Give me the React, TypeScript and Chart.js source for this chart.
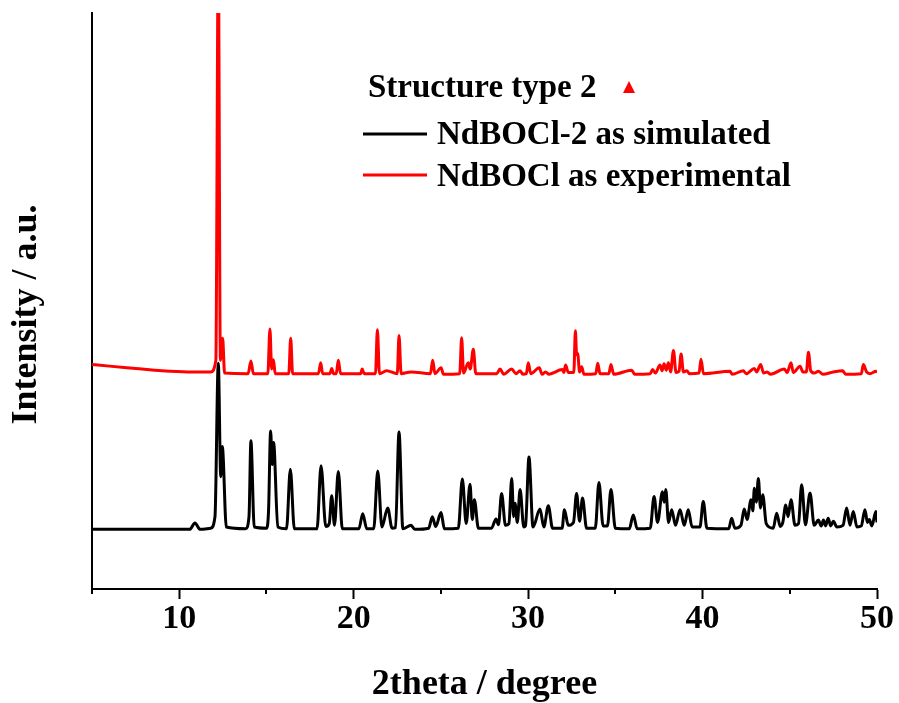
import { useEffect, useRef } from 'react';
import { Chart, registerables } from 'chart.js';

Chart.register(...registerables);

// ---- data ----
const simX = [5.0, 10.6, 10.9, 11.2, 11.8, 12.05, 12.24, 12.38, 12.47, 12.7, 13.8, 14.0, 14.11, 14.3, 15.0, 15.12, 15.24, 15.33, 15.41, 15.65, 16.15, 16.37, 16.6, 17.9, 18.13, 18.4, 18.6, 18.74, 18.9, 19.12, 19.35, 20.3, 20.52, 20.75, 21.15, 21.38, 21.62, 21.95, 22.2, 22.4, 22.6, 22.82, 23.29, 23.5, 24.3, 24.51, 24.7, 25.01, 25.2, 26.0, 26.23, 26.45, 26.67, 26.8, 26.92, 27.15, 27.9, 28.16, 28.3, 28.48, 28.7, 28.9, 29.06, 29.17, 29.25, 29.38, 29.54, 29.75, 29.85, 30.05, 30.28, 30.68, 30.9, 31.16, 31.4, 31.95, 32.08, 32.3, 32.6, 32.78, 32.95, 33.12, 33.35, 33.85, 34.06, 34.3, 34.55, 34.75, 35.0, 35.8, 36.03, 36.25, 37.0, 37.22, 37.42, 37.7, 37.8, 37.89, 38.05, 38.23, 38.45, 38.71, 38.95, 39.18, 39.4, 39.85, 40.04, 40.25, 41.5, 41.67, 41.85, 42.2, 42.39, 42.55, 42.78, 42.88, 42.97, 43.08, 43.2, 43.32, 43.45, 43.65, 44.05, 44.25, 44.45, 44.6, 44.77, 44.9, 45.07, 45.3, 45.5, 45.68, 45.9, 46.16, 46.4, 46.64, 46.8, 46.93, 47.05, 47.2, 47.35, 47.5, 47.7, 48.05, 48.26, 48.45, 48.64, 48.85, 49.1, 49.31, 49.45, 49.56, 49.7, 49.94, 50.0];
const simY = [10.8, 10.8, 11.9, 10.8, 11.0, 13.0, 39.5, 19.9, 25.1, 11.2, 10.9, 13.0, 26.1, 11.2, 11.0, 14.0, 27.8, 22.0, 25.8, 11.2, 10.9, 21.2, 10.9, 10.9, 21.8, 11.3, 11.8, 16.6, 11.5, 20.8, 10.9, 10.9, 13.5, 10.9, 10.9, 20.9, 11.2, 14.5, 11.0, 11.1, 27.6, 10.9, 11.5, 10.8, 11.0, 13.0, 11.3, 13.7, 10.9, 11.0, 19.5, 11.8, 18.6, 12.5, 15.9, 11.0, 11.0, 12.6, 11.6, 17.0, 11.5, 11.8, 19.6, 13.0, 15.3, 12.0, 17.7, 11.2, 11.4, 23.3, 11.2, 14.3, 11.2, 14.9, 11.0, 11.0, 14.2, 11.5, 12.0, 17.0, 12.2, 16.2, 11.0, 11.0, 18.9, 11.4, 11.4, 17.7, 11.0, 10.9, 13.3, 10.9, 11.0, 16.5, 12.0, 17.3, 15.5, 17.7, 12.0, 14.2, 11.5, 14.2, 11.5, 14.2, 11.2, 11.2, 15.6, 11.0, 10.9, 12.7, 11.0, 11.5, 14.3, 12.5, 15.9, 14.0, 17.9, 15.5, 19.6, 14.5, 16.8, 11.8, 11.0, 13.6, 11.3, 12.0, 15.0, 13.0, 15.9, 11.5, 11.8, 18.5, 11.6, 17.1, 11.5, 12.4, 11.4, 12.4, 11.4, 12.7, 11.4, 12.2, 11.2, 11.5, 14.5, 11.5, 13.9, 11.2, 11.4, 14.2, 12.0, 12.5, 11.4, 13.9, 12.0];

const expX = [5.0, 6.0, 7.5, 9.0, 10.5, 11.8, 12.1, 12.24, 12.36, 12.49, 12.6, 13.95, 14.11, 14.25, 15.08, 15.2, 15.3, 15.4, 15.5, 16.28, 16.39, 16.5, 17.98, 18.11, 18.22, 18.64, 18.74, 18.85, 19.0, 19.12, 19.25, 20.4, 20.49, 20.6, 21.25, 21.36, 21.48, 21.89, 22.5, 22.6, 22.72, 23.29, 24.4, 24.53, 24.66, 25.01, 25.15, 26.08, 26.19, 26.3, 26.57, 26.68, 26.86, 27.0, 28.2, 28.39, 28.6, 29.06, 29.3, 29.54, 29.7, 29.9, 30.01, 30.15, 30.64, 30.8, 31.0, 31.2, 31.96, 32.05, 32.15, 32.3, 32.62, 32.71, 32.78, 32.84, 32.95, 33.07, 33.2, 33.88, 33.99, 34.12, 34.63, 34.75, 34.9, 35.94, 36.1, 37.0, 37.14, 37.3, 37.56, 37.68, 37.79, 37.92, 38.04, 38.17, 38.33, 38.48, 38.65, 38.77, 38.9, 39.1, 39.25, 39.8, 39.91, 40.05, 41.57, 41.7, 42.34, 42.5, 42.97, 43.1, 43.33, 43.5, 43.7, 43.9, 44.69, 44.85, 45.07, 45.2, 45.59, 45.75, 45.95, 46.07, 46.2, 46.4, 46.64, 46.9, 47.5, 48.03, 48.2, 49.1, 49.22, 49.4, 49.6, 49.94, 50.0];
const expY = [39.3, 39.0, 38.6, 38.2, 38.0, 38.0, 40.0, 110.0, 40.0, 43.8, 37.8, 37.7, 39.9, 37.7, 37.7, 45.4, 38.5, 40.1, 37.7, 37.7, 43.8, 37.7, 37.7, 39.6, 37.7, 37.7, 38.6, 37.7, 37.7, 40.0, 37.7, 37.7, 38.5, 37.7, 37.7, 45.3, 37.7, 38.2, 37.7, 44.3, 37.7, 38.0, 37.7, 40.0, 37.7, 38.7, 37.6, 37.7, 43.9, 37.8, 39.6, 38.5, 41.9, 37.7, 37.7, 38.5, 37.6, 38.5, 37.7, 38.2, 37.6, 37.7, 39.6, 37.7, 38.7, 37.6, 38.0, 37.6, 38.4, 37.9, 39.2, 37.9, 37.9, 45.1, 41.0, 41.2, 38.0, 38.9, 37.6, 37.7, 39.5, 37.7, 37.7, 39.3, 37.6, 38.3, 37.6, 37.7, 38.4, 37.8, 39.2, 38.2, 39.4, 38.3, 39.6, 38.0, 41.7, 37.9, 38.1, 41.1, 38.0, 38.2, 37.7, 37.8, 40.2, 37.7, 38.1, 37.6, 38.2, 37.7, 38.6, 38.0, 39.3, 37.8, 38.0, 37.6, 38.5, 37.9, 39.6, 37.9, 39.0, 38.0, 38.0, 41.4, 38.2, 37.8, 38.1, 37.6, 38.0, 38.2, 37.6, 37.7, 39.3, 38.0, 37.7, 38.1, 37.9];

const seriesLabels = ['NdBOCl-2 as simulated', 'NdBOCl as experimental'];
const seriesColors = ['#000000', '#ff0000'];
const legendTitle = 'Structure type 2';
const xTitle = '2theta / degree';
const yTitle = 'Intensity / a.u.';
const xMin = 5;
const xMax = 50;
const yMin = 0.5;
const yMax = 100;
const minorTicks = [5, 15, 25, 35, 45];

const FONT = '"Liberation Serif", "Times New Roman", serif';

const overlayPlugin = {
  id: 'overlay',
  afterDraw(chart: any) {
    const ctx = chart.ctx;
    const xs = chart.scales.x;
    const bottom = chart.chartArea.bottom;
    ctx.save();
    // minor ticks
    ctx.strokeStyle = '#000';
    ctx.lineWidth = 2;
    minorTicks.forEach((v) => {
      const p = Math.round(xs.getPixelForValue(v));
      ctx.beginPath();
      ctx.moveTo(p, bottom);
      ctx.lineTo(p, bottom + 5);
      ctx.stroke();
    });
    // legend
    ctx.font = `bold 33px ${FONT}`;
    ctx.textAlign = 'left';
    ctx.textBaseline = 'alphabetic';
    ctx.fillStyle = '#000';
    ctx.fillText(legendTitle, 368, 97);
    ctx.fillStyle = '#ff0000';
    ctx.beginPath();
    ctx.moveTo(629, 81);
    ctx.lineTo(635, 93);
    ctx.lineTo(623, 93);
    ctx.closePath();
    ctx.fill();
    const lineYs = [134, 175];
    const textYs = [144, 186];
    chart.data.datasets.forEach((ds: any, i: number) => {
      ctx.strokeStyle = ds.borderColor;
      ctx.lineWidth = 3;
      ctx.beginPath();
      ctx.moveTo(363, lineYs[i]);
      ctx.lineTo(427, lineYs[i]);
      ctx.stroke();
      ctx.fillStyle = '#000';
      ctx.fillText(ds.label, 437, textYs[i]);
    });
    ctx.restore();
  },
};

export default function App() {
  const ref = useRef<HTMLCanvasElement | null>(null);
  useEffect(() => {
    if (!ref.current) return;
    const chart = new Chart(ref.current, {
      type: 'line',
      data: {
        datasets: [
          {
            label: seriesLabels[0],
            data: simX.map((x, i) => ({ x, y: simY[i] })),
            borderColor: seriesColors[0],
            borderWidth: 3,
            pointRadius: 0,
            cubicInterpolationMode: 'monotone',
            fill: false,
            order: 0,
          },
          {
            label: seriesLabels[1],
            data: expX.map((x, i) => ({ x, y: expY[i] })),
            borderColor: seriesColors[1],
            borderWidth: 3,
            pointRadius: 0,
            cubicInterpolationMode: 'monotone',
            fill: false,
            order: 1,
          },
        ],
      },
      options: {
        animation: false,
        responsive: false,
        devicePixelRatio: 1,
        layout: { padding: { top: 13, right: 22, left: 0, bottom: 0 } },
        plugins: { legend: { display: false }, tooltip: { enabled: false } },
        scales: {
          x: {
            type: 'linear',
            min: xMin,
            max: xMax,
            afterFit: (s: any) => {
              s.height = 114;
            },
            ticks: {
              stepSize: 5,
              autoSkip: false,
              maxRotation: 0,
              padding: 0,
              color: '#000',
              font: { family: FONT, size: 34, weight: 'bold' },
              callback: (v: any) => (Number(v) % 10 === 0 ? String(v) : ''),
            },
            grid: {
              display: true,
              drawOnChartArea: false,
              drawTicks: true,
              tickLength: 10,
              tickWidth: 2,
              tickColor: (c: any) => (c.tick && c.tick.value % 10 === 0 ? '#000' : 'rgba(0,0,0,0)'),
            },
            border: { display: true, color: '#000', width: 2 },
            title: {
              display: true,
              text: xTitle,
              color: '#000',
              font: { family: FONT, size: 36, weight: 'bold' },
              padding: { top: 0, bottom: -3 },
            },
          },
          y: {
            type: 'linear',
            min: yMin,
            max: yMax,
            afterFit: (s: any) => {
              s.width = 92;
            },
            ticks: { display: false },
            grid: { display: false },
            border: { display: true, color: '#000', width: 2 },
            title: {
              display: true,
              text: yTitle + '   ',
              color: '#000',
              font: { family: FONT, size: 36, weight: 'bold' },
              padding: { top: 5, bottom: 0 },
            },
          },
        },
      },
      plugins: [overlayPlugin],
    });
    return () => chart.destroy();
  }, []);
  return (
    <div style={{ position: 'absolute', left: 0, top: 0, width: 899, height: 703, background: '#fff' }}>
      <canvas ref={ref} width={899} height={703} style={{ display: 'block' }} />
    </div>
  );
}
